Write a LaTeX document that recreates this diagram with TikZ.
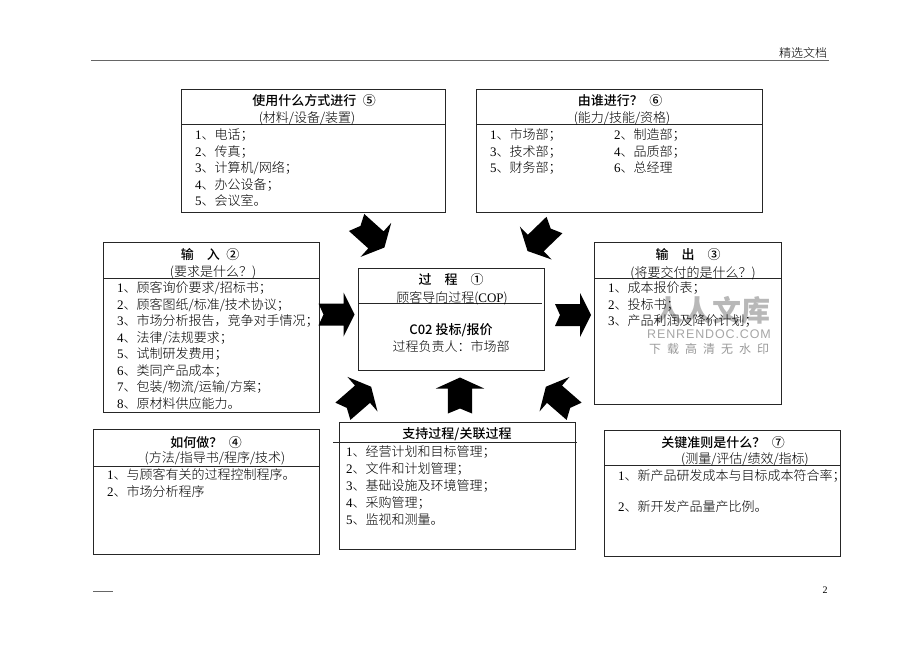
\documentclass[tikz,border=0pt]{standalone}
\usepackage{fontspec}
\setmainfont{Liberation Serif}
\newfontfamily\cjk[UprightFont=* Medium]{Noto Sans CJK SC}
\newfontfamily\cjklight[UprightFont=* Light]{Noto Sans CJK SC}
\newfontfamily\wmlatin[LetterSpace=7]{Liberation Sans}
\newfontfamily\wmcjk[LetterSpace=50]{Noto Sans CJK SC}
\newcommand{\dg}[1]{{\rmfamily #1}}
\tikzset{
    panel/.style={draw=black!85, line width=1pt, inner sep=0pt, outer sep=0pt},
    sepline/.style={draw=black!85, line width=0.8pt},
    heading/.style={font=\cjk\fontsize{13}{16}\selectfont, inner sep=0pt},
    subhead/.style={font=\cjklight\fontsize{13}{16}\selectfont, inner sep=0pt, yshift=-0.8pt},
    listing/.style={font=\cjklight\fontsize{13}{16.5}\selectfont, align=left, anchor=north west, inner sep=0pt},
    pagerule/.style={draw=black!60, line width=0.9pt},
    blockarrow/.pic={
        \fill[black] (-18,-11) -- (-13,0) -- (-18,11) -- (7,11) -- (7,22)
            -- (18,0) -- (7,-22) -- (7,-11) -- cycle;
    }
}
\begin{document}
\begin{tikzpicture}[x=1pt, y=-1pt]
    \useasboundingbox (0,0) rectangle (920,651);

    % page header and footer
    \coordinate (headleft) at (91,60.5);
    \coordinate (headright) at (829,60.5);
    \coordinate (footleft) at (93,591);
    \coordinate (footright) at (113,591);
    \draw[pagerule] (headleft) -- (headright);
    \draw[pagerule] (footleft) -- (footright);
    \node[subhead, font=\cjklight\fontsize{12}{14}\selectfont] (headtext) at (803,52) {精选文档};
    \node[font=\rmfamily\fontsize{10}{12}\selectfont, inner sep=0pt] (pageno) at (825,590) {2};

    % watermark
    \node[font=\cjk\bfseries\fontsize{29}{32}\selectfont, text=black!28, inner sep=0pt] (wmname) at (712,310) {人人文库};
    \node[font=\wmlatin\fontsize{12.5}{14}\selectfont, text=black!35, inner sep=0pt] (wmsite) at (709,334) {RENRENDOC.COM};
    \node[font=\wmcjk\fontsize{12}{14}\selectfont, text=black!40, inner sep=0pt] (wmnote) at (709,349) {下载高清无水印};

    % boxes
    \node[panel, minimum width=264pt, minimum height=123pt] (tools) at (313,150.5) {};
    \node[panel, minimum width=286pt, minimum height=123pt] (people) at (619,150.5) {};
    \node[panel, minimum width=216pt, minimum height=170pt] (input) at (211,327) {};
    \node[panel, minimum width=186pt, minimum height=102pt] (process) at (451,319) {};
    \node[panel, minimum width=187pt, minimum height=162pt] (output) at (687.5,323) {};
    \node[panel, minimum width=226pt, minimum height=125pt] (method) at (206,491.5) {};
    \node[panel, minimum width=236pt, minimum height=127pt] (support) at (457,485.5) {};
    \node[panel, minimum width=236pt, minimum height=126pt] (criteria) at (722,493) {};

    \foreach \pname/\gap in {tools/35, people/35, input/36, output/36, method/37, criteria/35}
        \draw[sepline] ([yshift=-\gap pt]\pname.north west) -- ([yshift=-\gap pt]\pname.north east);
    \draw[sepline] ([yshift=-35pt]process.north west) -- ([xshift=-2pt, yshift=-35pt]process.north east);
    \draw[sepline] ([xshift=-6pt, yshift=-20pt]support.north west) -- ([xshift=2pt, yshift=-20pt]support.north east);

    % tools
    \node[heading] (toolshead) at (314,101) {使用什么方式进行\enspace⑤};
    \node[subhead] (toolssub) at (307,118) {(材料/设备/装置)};
    \node[listing] (toolslist) at (195,128.5) {\dg{1}、电话；\\\dg{2}、传真；\\\dg{3}、计算机/网络；\\\dg{4}、办公设备；\\\dg{5}、会议室。};

    % people
    \node[heading] (peoplehead) at (620,101) {由谁进行？\enspace⑥};
    \node[subhead] (peoplesub) at (622,118) {(能力/技能/资格)};
    \node[listing] (peoplelist) at (490,128.5) {\dg{1}、市场部；\\\dg{3}、技术部；\\\dg{5}、财务部；};
    \node[listing] (peoplemore) at (614,128.5) {\dg{2}、制造部；\\\dg{4}、品质部；\\\dg{6}、总经理};

    % input
    \node[heading] (inputhead) at (210,255) {输　入\enspace②};
    \node[subhead] (inputsub) at (213,272) {(要求是什么？)};
    \node[listing] (inputlist) at (117,281.5) {\dg{1}、顾客询价要求/招标书；\\\dg{2}、顾客图纸/标准/技术协议；\\\dg{3}、市场分析报告，竞争对手情况；\\\dg{4}、法律/法规要求；\\\dg{5}、试制研发费用；\\\dg{6}、类同产品成本；\\\dg{7}、包装/物流/运输/方案；\\\dg{8}、原材料供应能力。};

    % process
    \node[heading] (processhead) at (451,280) {过　程　①};
    \node[subhead] (processsub) at (452,297) {顾客导向过程(\dg{COP})};
    \node[heading] (processname) at (451,330) {C02 投标/报价};
    \node[subhead] (processowner) at (451,346) {过程负责人：市场部};

    % output
    \node[heading] (outputhead) at (688,255) {输　出　③};
    \node[subhead] (outputsub) at (693,272) {(将要交付的是什么？)};
    \node[listing] (outputlist) at (608,281.5) {\dg{1}、成本报价表；\\\dg{2}、投标书；\\\dg{3}、产品利润及降价计划；};

    % method
    \node[heading] (methodhead) at (206,443) {如何做？\enspace④};
    \node[subhead] (methodsub) at (215,458) {(方法/指导书/程序/技术)};
    \node[listing] (methodlist) at (107,468.5) {\dg{1}、与顾客有关的过程控制程序。\\\dg{2}、市场分析程序};

    % support
    \node[heading] (supporthead) at (457,434) {支持过程/关联过程};
    \node[listing, font=\cjklight\fontsize{13}{17}\selectfont] (supportlist) at (346,445.5) {\dg{1}、经营计划和目标管理；\\\dg{2}、文件和计划管理；\\\dg{3}、基础设施及环境管理；\\\dg{4}、采购管理；\\\dg{5}、监视和测量。};

    % criteria
    \node[heading] (criteriahead) at (723,443) {关键准则是什么？\enspace⑦};
    \node[subhead] (criteriasub) at (745,459) {(测量/评估/绩效/指标)};
    \node[listing] (criterialist) at (618,469.5) {\dg{1}、新产品研发成本与目标成本符合率；\\[14.5pt]\dg{2}、新开发产品量产比例。};

    % block arrows
    \pic[rotate=-42, scale=1.04] at (370.5,235) {blockarrow};
    \pic[rotate=-136, scale=1.04] at (541,238) {blockarrow};
    \pic at (336.5,314.5) {blockarrow};
    \pic at (573,315) {blockarrow};
    \pic[rotate=41, scale=1.04] at (357,399) {blockarrow};
    \pic[rotate=90, yscale=1.1] at (460,395.5) {blockarrow};
    \pic[rotate=139, scale=1.04] at (560,399) {blockarrow};
\end{tikzpicture}
\end{document}
